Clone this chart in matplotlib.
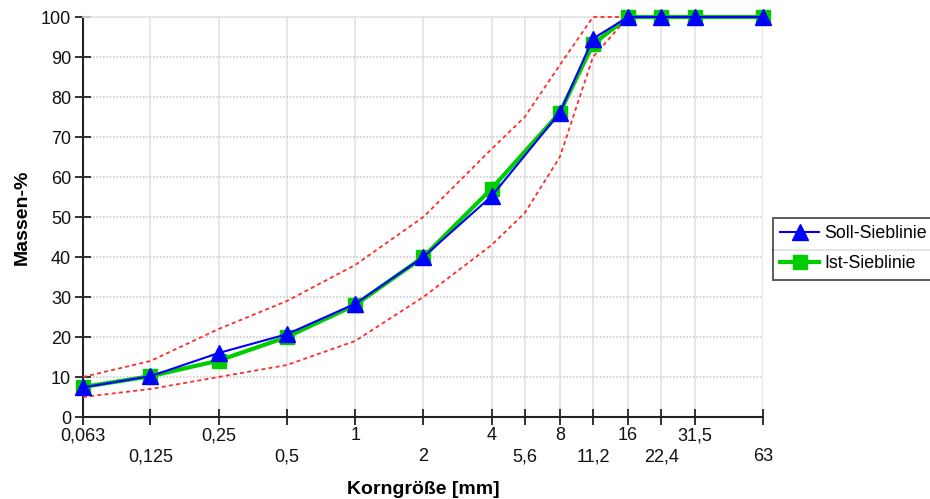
import matplotlib
matplotlib.use("Agg")
import matplotlib.pyplot as plt
import matplotlib.ticker as mticker
from matplotlib.lines import Line2D

plt.rcParams["font.family"] = ["Liberation Sans", "DejaVu Sans"]

# sieve sizes [mm] and their labels
sieve = [0.063, 0.125, 0.25, 0.5, 1, 2, 4, 5.6, 8, 11.2, 16, 22.4, 31.5, 63]
sieve_labels = ["0,063", "0,125", "0,25", "0,5", "1", "2", "4", "5,6", "8",
                "11,2", "16", "22,4", "31,5", "63"]

# passing [mass-%]
soll = [7.4, 10.2, 16.0, 20.7, 28.3, 40.0, 55.2, None, 76.1, 94.6, 100, 100, 100, 100]
ist = [7.5, 10.2, 14.1, 20.0, 28.0, 40.0, 57.1, None, 76.1, 93.2, 100, 100, 100, 100]
upper = [10, 14, 22, 29, 38, 50, 67, 75, 88, 100, 100]
lower = [5, 7, 10, 13, 19, 30, 43, 51, 65, 90, 100]

def pts(vals):
    xs = [s for s, v in zip(sieve, vals) if v is not None]
    ys = [v for v in vals if v is not None]
    return xs, ys

fig = plt.figure(figsize=(9.3, 4.99), dpi=100)
ax = fig.add_axes([83 / 930, 1 - 417 / 499, 680 / 930, 400 / 499])

ax.plot(sieve[:len(upper)], upper, color="#ff2a2a", lw=1.3, ls=(0, (2.2, 1.8)),
        clip_on=False, zorder=2.7)
ax.plot(sieve[:len(lower)], lower, color="#ff2a2a", lw=1.3, ls=(0, (2.2, 1.8)),
        clip_on=False, zorder=2.7)

xi, yi = pts(ist)
l_ist, = ax.plot(xi, yi, color="#00cc00", lw=3, marker="s", ms=10,
                 clip_on=False, zorder=3, label="Ist-Sieblinie")
xs, ys = pts(soll)
l_soll, = ax.plot(xs, ys, color="#0000ff", lw=1.5, marker="^", ms=11,
                  clip_on=False, zorder=4, label="Soll-Sieblinie")

ax.set_xscale("log")
ax.set_xlim(0.063, 63)
ax.set_ylim(0, 100)
ax.xaxis.set_major_locator(mticker.FixedLocator(sieve))
ax.xaxis.set_minor_locator(mticker.NullLocator())
ax.set_xticklabels([lab if i % 2 == 0 else "\n" + lab for i, lab in enumerate(sieve_labels)],
                   linespacing=1.3)
ax.set_yticks(range(0, 101, 10))

ax.tick_params(axis="both", direction="inout", length=11, width=1.3,
               color="#222222", labelsize=13, labelcolor="#111111")
ax.tick_params(axis="x", pad=2)
ax.tick_params(axis="y", pad=3)

ax.grid(axis="x", color="#e3e3e3", lw=1.2, ls="-", zorder=0)
ax.grid(axis="y", color="#cccccc", lw=1.2, ls=(0, (1, 1)), zorder=0)
ax.set_axisbelow(True)

for side in ["left", "bottom"]:
    ax.spines[side].set_color("#222222")
    ax.spines[side].set_linewidth(1.5)
ax.spines["top"].set_color("#e3e3e3")
ax.spines["top"].set_linewidth(1.2)
ax.spines["right"].set_visible(False)

ax.set_xlabel("Korngröße [mm]", fontsize=14, fontweight="bold", labelpad=11)
ax.set_ylabel("Massen-%", fontsize=14, fontweight="bold", labelpad=7)

leg = fig.legend(handles=[l_soll, l_ist], loc="upper left",
                 bbox_to_anchor=(773 / 930, 1 - 218 / 499), fontsize=12.8,
                 frameon=True, fancybox=False, edgecolor="#222222",
                 handlelength=2.2, handletextpad=0.3, labelspacing=0.75,
                 borderpad=0.4, borderaxespad=0)
leg.get_frame().set_linewidth(1.3)
fig.add_artist(Line2D([773 / 930, 1], [1 - 250 / 499, 1 - 250 / 499],
                      color="#666666", lw=1.2, transform=fig.transFigure))

fig.savefig("out.png", dpi=100)
